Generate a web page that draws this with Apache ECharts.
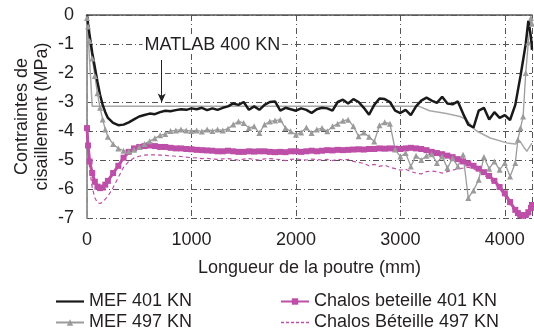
<!DOCTYPE html>
<html>
<head>
<meta charset="utf-8">
<script src="https://cdn.jsdelivr.net/npm/echarts@6/dist/echarts.min.js"></script>
</head>
<body style="margin:0">
<div id="container" style="width:534px;height:335px"></div>
<script>
// positions along the beam (mm)
var xs = [0,10,25,50,75,100,125,150,175,200,
  250,300,350,400,450,500,550,600,650,700,
  750,800,850,900,950,1000,1050,1100,1150,1200,
  1250,1300,1350,1400,1450,1500,1550,1600,1650,1700,
  1750,1800,1850,1900,1950,2000,2050,2100,2150,2200,
  2250,2300,2350,2400,2450,2500,2550,2600,2650,2700,
  2750,2800,2850,2900,2950,3000,3050,3100,3150,3200,
  3250,3300,3350,3400,3450,3500,3550,3600,3650,3700,
  3750,3800,3850,3900,3950,4000,4050,4100,4125,4150,
  4175,4200,4225,4250,4260];

var mef401 = [0,-0.3,-0.7,-1.3,-1.8,-2.3,-2.75,-3.1,-3.35,-3.55,
  -3.72,-3.8,-3.78,-3.7,-3.6,-3.5,-3.45,-3.4,-3.42,-3.35,
  -3.3,-3.32,-3.28,-3.25,-3.27,-3.22,-3.25,-3.2,-3.28,-3.22,
  -3.27,-3.2,-3.15,-3.05,-3.1,-3.0,-3.27,-3.15,-3.27,-3.1,
  -3.0,-2.98,-3.3,-3.2,-3.25,-3.3,-3.22,-3.27,-3.38,-3.25,
  -3.2,-3.22,-3.3,-3.0,-2.92,-3.05,-2.9,-3.0,-3.2,-3.44,
  -3.1,-2.88,-2.9,-3.0,-3.3,-3.38,-3.27,-3.45,-3.15,-2.95,
  -2.85,-2.95,-3.03,-2.82,-3.05,-3.08,-2.98,-3.4,-3.78,-3.88,
  -3.3,-3.2,-3.6,-3.35,-3.55,-3.45,-3.62,-3.1,-2.6,-2.1,
  -1.55,-1.0,-0.2,-0.75,-1.2];

var mef497 = [-0.1,-0.4,-0.9,-1.5,-2.1,-2.7,-3.2,-3.6,-3.95,-4.2,
  -4.45,-4.6,-4.68,-4.7,-4.65,-4.55,-4.45,-4.35,-4.25,-4.15,
  -4.1,-4.0,-3.98,-3.95,-3.98,-4.0,-3.98,-4.02,-3.95,-4.0,
  -3.95,-3.98,-3.92,-3.78,-3.67,-3.72,-3.9,-3.84,-4.07,-3.78,
  -3.67,-3.64,-3.61,-3.9,-4.01,-4.13,-4.05,-3.88,-4.07,-3.95,
  -3.9,-4.01,-3.84,-3.75,-3.65,-3.61,-3.84,-4.18,-4.05,-4.2,
  -4.36,-3.8,-3.7,-3.75,-4.64,-4.88,-4.76,-5.22,-4.85,-5.0,
  -4.85,-4.8,-5.1,-4.88,-5.28,-4.94,-5.22,-4.82,-6.31,-6.05,
  -5.68,-4.9,-5.3,-5.05,-5.34,-5.1,-5.57,-5.1,-4.3,-3.9,
  -3.5,-2.0,-0.95,-0.1,-0.3];

var chalos401 = [-3.9,-4.5,-5.05,-5.45,-5.75,-5.92,-5.97,-5.95,-5.85,-5.72,
  -5.45,-5.2,-4.92,-4.72,-4.6,-4.55,-4.52,-4.5,-4.52,-4.55,
  -4.55,-4.58,-4.6,-4.6,-4.62,-4.63,-4.65,-4.66,-4.67,-4.68,
  -4.7,-4.7,-4.68,-4.7,-4.72,-4.72,-4.7,-4.71,-4.7,-4.7,
  -4.72,-4.73,-4.72,-4.73,-4.7,-4.7,-4.72,-4.7,-4.68,-4.7,
  -4.68,-4.66,-4.67,-4.65,-4.66,-4.65,-4.64,-4.63,-4.64,-4.62,
  -4.62,-4.6,-4.61,-4.6,-4.61,-4.62,-4.6,-4.58,-4.6,-4.62,
  -4.66,-4.72,-4.76,-4.8,-4.85,-4.9,-4.97,-5.05,-5.12,-5.2,
  -5.3,-5.42,-5.55,-5.72,-5.93,-6.15,-6.45,-6.72,-6.83,-6.9,
  -6.92,-6.9,-6.8,-6.65,-6.55];

var chalos497 = [-3.9,-4.6,-5.3,-5.95,-6.3,-6.48,-6.5,-6.45,-6.35,-6.25,
  -5.95,-5.6,-5.25,-5.05,-4.93,-4.87,-4.83,-4.82,-4.82,-4.83,
  -4.84,-4.86,-4.87,-4.88,-4.9,-4.92,-4.93,-4.95,-4.94,-4.97,
  -4.98,-4.96,-4.95,-4.98,-5.0,-4.97,-4.95,-4.98,-5.0,-4.96,
  -4.95,-4.97,-4.99,-5.02,-4.98,-4.96,-4.99,-5.0,-4.97,-4.98,
  -5.0,-4.98,-5.02,-4.97,-5.0,-4.98,-5.05,-5.08,-5.12,-5.2,
  -5.15,-5.22,-5.18,-5.25,-5.3,-5.35,-5.32,-5.4,-5.45,-5.48,
  -5.4,-5.38,-5.4,-5.45,-5.4,-5.35,-5.3,-5.28,-5.25,-5.3,
  -5.4,-5.52,-5.65,-5.8,-6.0,-6.25,-6.55,-6.8,-6.95,-7.0,
  -7.0,-7.0,-6.95,-6.8,-6.7];

// MATLAB 400 KN curve
var matlabX = [0,50,3180,3280,3440,3570,3630,3700,3730,3860,4020,4100,4145,4180,4210,4260];
var matlabY = [0,-3.15,-3.15,-3.3,-3.4,-3.5,-3.6,-3.9,-4.0,-4.24,-4.41,-4.45,-4.35,-4.55,-4.7,-4.42];

var names = ['MEF 401 KN', 'MEF 497 KN', 'Chalos beteille 401 KN', 'Chalos Béteille 497 KN'];

function pairs(x, y) {
    var out = [];
    for (var i = 0; i < y.length; i++) out.push([x[i], y[i]]);
    return out;
}

var font = 'Liberation Sans, Arial, sans-serif';
var txt = '#231f20';
var magenta = '#bd4fa8';
var grey = '#9b9b9b';
var dashDot = [6, 3, 1, 3];

// plain line icons for the legend entries without markers
var solidIcon = 'path://M0,0h28v2.2h-28z';
var dashIcon = 'path://M0,0h3v1.3h-3z M5,0h3v1.3h-3z M10,0h3v1.3h-3z M15,0h3v1.3h-3z M20,0h3v1.3h-3z M25,0h3v1.3h-3z';

var myChart = echarts.init(document.getElementById('container'), null, {renderer: 'canvas'});

var legendText = {fontSize: 18, color: txt, fontFamily: font, lineHeight: 19};

var option = {
    animation: false,
    textStyle: {fontFamily: font, color: txt},
    grid: {left: 87, right: 2, top: 15, bottom: 117, outerBoundsMode: 'none'},
    legend: [
        {
            data: [{name: names[0], icon: solidIcon, itemStyle: {color: '#1a1a1a'}}, names[1]],
            orient: 'vertical', left: 55, top: 292, padding: 0,
            itemWidth: 28, itemHeight: 8, itemGap: 2,
            textStyle: legendText
        },
        {
            data: [names[2], {name: names[3], icon: dashIcon, itemStyle: {color: magenta}}],
            orient: 'vertical', left: 280, top: 292, padding: 0,
            itemWidth: 28, itemHeight: 8, itemGap: 2,
            textStyle: legendText
        }
    ],
    xAxis: [
        {
            type: 'value', min: 0, max: 4260, interval: 1000,
            name: 'Longueur de la poutre (mm)', nameLocation: 'middle', nameGap: 41,
            nameTextStyle: {fontSize: 18, color: txt, fontFamily: font},
            axisLine: {show: true, lineStyle: {color: '#555', type: dashDot}},
            axisTick: {show: false},
            axisLabel: {fontSize: 18, color: txt, margin: 13, showMaxLabel: false,
                formatter: function (v) { return v % 1000 === 0 ? String(v) : ''; }},
            splitLine: {show: true, lineStyle: {color: '#555', type: dashDot}}
        },
        {
            type: 'value', position: 'top', min: 0, max: 4260,
            axisLine: {show: true, lineStyle: {color: '#5a5a5a', width: 1.5}},
            axisTick: {show: false}, axisLabel: {show: false}, splitLine: {show: false}
        }
    ],
    yAxis: [
        {
            type: 'value', min: -7, max: 0, interval: 1,
            name: 'Contraintes de\ncisaillement (MPa)', nameLocation: 'middle', nameGap: 35, nameRotate: 90,
            nameMoveOverlap: false,
            nameTextStyle: {fontSize: 18, color: txt, fontFamily: font, lineHeight: 20},
            axisLine: {show: true, lineStyle: {color: '#222', width: 1.5}},
            axisTick: {show: false},
            axisLabel: {fontSize: 18, color: txt, margin: 13},
            splitLine: {show: true, lineStyle: {color: '#555', type: dashDot}}
        },
        {
            type: 'value', position: 'right', min: -7, max: 0,
            axisLine: {show: true, lineStyle: {color: '#b0b0b0', width: 1.5}},
            axisTick: {show: false}, axisLabel: {show: false}, splitLine: {show: false}
        }
    ],
    series: [
        {
            name: names[3], type: 'line', data: pairs(xs, chalos497),
            showSymbol: false, symbol: 'none',
            lineStyle: {color: magenta, width: 1.2, type: [4, 3]},
            itemStyle: {color: magenta}
        },
        {
            name: names[2], type: 'line', data: pairs(xs, chalos401),
            symbol: 'rect', symbolSize: 6, showSymbol: true,
            lineStyle: {color: magenta, width: 3},
            itemStyle: {color: magenta}
        },
        {
            name: names[1], type: 'line', data: pairs(xs, mef497),
            symbol: 'triangle', symbolSize: 6, showSymbol: true,
            lineStyle: {color: grey, width: 1.3},
            itemStyle: {color: grey}
        },
        {
            name: 'MATLAB 400 KN', type: 'line', data: pairs(matlabX, matlabY),
            showSymbol: false, symbol: 'none',
            lineStyle: {color: '#a8a8a8', width: 1.5},
            markLine: {
                silent: true, symbol: ['none', 'arrow'], symbolSize: [6, 9],
                lineStyle: {color: '#222', width: 1, type: 'solid'},
                label: {show: false},
                data: [[{coord: [715, -1.55]}, {coord: [715, -3.02]}]]
            },
            markPoint: {
                silent: true, symbol: 'rect', symbolSize: 1,
                itemStyle: {color: 'rgba(0,0,0,0)'},
                label: {show: true, position: 'inside', formatter: 'MATLAB 400 KN',
                    fontSize: 18, color: txt, fontFamily: font,
                    backgroundColor: '#fff', padding: [0, 2]},
                data: [{coord: [1200, -1.02]}]
            }
        },
        {
            name: names[0], type: 'line', data: pairs(xs, mef401),
            showSymbol: false, symbol: 'none',
            lineStyle: {color: '#1a1a1a', width: 2.5},
            itemStyle: {color: '#1a1a1a'}
        }
    ]
};

myChart.setOption(option);
window.addEventListener('resize', myChart.resize);
</script>
</body>
</html>
